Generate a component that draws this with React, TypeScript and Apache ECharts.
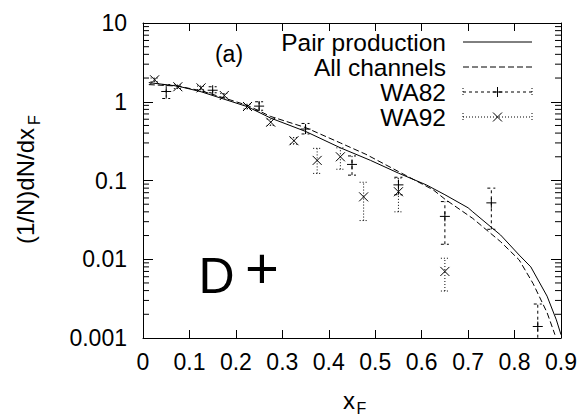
import React, { useEffect, useRef } from "react";
import * as echarts from "echarts";

const FONT = '"Liberation Sans", Arial, Helvetica, sans-serif';

// Tick labels
const xTickLabels = ["0", "0.1", "0.2", "0.3", "0.4", "0.5", "0.6", "0.7", "0.8", "0.9"];
const yTickLabels = ["0.001", "0.01", "0.1", "1", "10"];
const minorMantissas = [2, 3, 4, 5, 6, 7, 8, 9];
const minorDecades = [0.001, 0.01, 0.1, 1];

// Pair production (solid curve)
const pairX = [0.0125, 0.075, 0.125, 0.225, 0.275, 0.35, 0.425, 0.49, 0.55, 0.61, 0.65, 0.7, 0.71, 0.77, 0.81, 0.835, 0.87, 0.89, 0.9];
const pairY = [1.75, 1.58, 1.34, 0.865, 0.62, 0.42, 0.26, 0.18, 0.124, 0.088, 0.066, 0.045, 0.04, 0.0203, 0.0113, 0.008, 0.0034, 0.0017, 0.0011];

// All channels (dashed curve)
const allX = [0.0125, 0.075, 0.125, 0.225, 0.275, 0.35, 0.425, 0.48, 0.55, 0.625, 0.65, 0.71, 0.77, 0.81, 0.84, 0.87, 0.887];
const allY = [1.65, 1.58, 1.38, 0.9, 0.65, 0.47, 0.3, 0.215, 0.13, 0.076, 0.058, 0.033, 0.0167, 0.0098, 0.0049, 0.0021, 0.0011];

// WA82 (+)
const wa82X = [0.05, 0.15, 0.25, 0.35, 0.45, 0.55, 0.65, 0.75, 0.85];
const wa82Y = [1.35, 1.4, 0.88, 0.45, 0.16, 0.088, 0.035, 0.052, 0.0014];
const wa82Lo = [1.1, 1.3, 0.78, 0.39, 0.117, 0.066, 0.0155, 0.024, 0.0005];
const wa82Hi = [1.65, 1.55, 1.0, 0.53, 0.205, 0.11, 0.054, 0.08, 0.0027];

// WA92 (x)
const wa92X = [0.025, 0.075, 0.125, 0.175, 0.225, 0.275, 0.325, 0.375, 0.425, 0.475, 0.55, 0.65];
const wa92Y = [1.9, 1.55, 1.5, 1.2, 0.87, 0.55, 0.32, 0.18, 0.2, 0.062, 0.072, 0.007];
const wa92Lo = [1.8, 1.47, 1.42, 1.13, 0.81, 0.5, 0.29, 0.123, 0.139, 0.031, 0.04, 0.00395];
const wa92Hi = [2.0, 1.63, 1.58, 1.27, 0.93, 0.6, 0.35, 0.256, 0.26, 0.095, 0.107, 0.0103];

const legendNames = ["Pair production", "All channels", "WA82", "WA92"];

const BLACK = "#000";

function zip2(a: number[], b: number[]) {
  return a.map((v, i) => [v, b[i]]);
}
function zip4(a: number[], b: number[], c: number[], d: number[]) {
  return a.map((v, i) => [v, b[i], c[i], d[i]]);
}

function ln(x1: number, y1: number, x2: number, y2: number, dash?: number[]) {
  const style: any = { stroke: BLACK, lineWidth: 1 };
  if (dash) style.lineDash = dash;
  return { type: "line", shape: { x1, y1, x2, y2 }, style };
}

function markerLines(kind: string, cx: number, cy: number) {
  const r = 5;
  if (kind === "plus") {
    return [ln(cx - r, cy, cx + r, cy), ln(cx, cy - r, cx, cy + r)];
  }
  const q = 4.5;
  return [ln(cx - q, cy - q, cx + q, cy + q), ln(cx - q, cy + q, cx + q, cy - q)];
}

function makeErrRender(kind: string) {
  return (params: any, api: any) => {
    const x = api.value(0);
    const y = api.value(1);
    const lo = api.value(2);
    const hi = api.value(3);
    const p = api.coord([x, y]);
    const pl = api.coord([x, lo]);
    const ph = api.coord([x, hi]);
    const dash = kind === "plus" ? [3, 3] : [1, 2];
    const c = 4;
    return {
      type: "group",
      children: [
        ln(p[0], pl[1], p[0], ph[1], dash),
        ln(p[0] - c, ph[1], p[0] + c, ph[1], dash),
        ln(p[0] - c, pl[1], p[0] + c, pl[1], dash),
        ...markerLines(kind, p[0], p[1]),
      ],
    };
  };
}

const minorTickValues: number[] = [];
minorDecades.forEach((d) => minorMantissas.forEach((m) => minorTickValues.push(+(m * d).toPrecision(3))));

function minorTickRender(params: any, api: any) {
  const x = api.value(0);
  const y = api.value(1);
  const p = api.coord([x, y]);
  const l = api.coord([0, y]);
  const r = api.coord([0.9, y]);
  return {
    type: "group",
    children: [ln(l[0], p[1], l[0] + 6, p[1]), ln(r[0] - 6, p[1], r[0], p[1])],
  };
}

function buildOption() {
  const axisLine = { show: true, onZero: false, lineStyle: { color: BLACK, width: 1 } };
  const legendRight = 446;
  const sx1 = 463;
  const sx2 = 532;
  const rowsY = [42, 67, 92, 117];
  const legendGraphics: any[] = [];
  legendNames.forEach((name, i) => {
    const y = rowsY[i];
    legendGraphics.push({
      type: "text",
      x: legendRight,
      y,
      style: {
        text: name,
        fill: BLACK,
        fontSize: 24.5,
        fontFamily: FONT,
        align: "right",
        textAlign: "right",
        verticalAlign: "middle",
        textVerticalAlign: "middle",
      },
    });
    if (i === 0) legendGraphics.push(ln(sx1, y, sx2, y));
    if (i === 1) legendGraphics.push(ln(sx1, y, sx2, y, [6, 3]));
    if (i === 2 || i === 3) {
      const dash = i === 2 ? [3, 3] : [1, 2];
      legendGraphics.push(ln(sx1, y, sx2, y, dash));
      legendGraphics.push(ln(sx1, y - 4, sx1, y + 4, [1, 2]));
      legendGraphics.push(ln(sx2, y - 4, sx2, y + 4, [1, 2]));
      markerLines(i === 2 ? "plus" : "cross", (sx1 + sx2) / 2, y).forEach((m) => legendGraphics.push(m));
    }
  });

  const textStyle = (text: string, size: number, extra: any = {}) => ({
    text,
    fill: BLACK,
    fontSize: size,
    fontFamily: FONT,
    align: "center",
    textAlign: "center",
    verticalAlign: "middle",
    textVerticalAlign: "middle",
    ...extra,
  });

  const tickStyle = { show: true, inside: true, lineStyle: { color: BLACK, width: 1 } };

  return {
    animation: false,
    backgroundColor: "#fff",
    grid: { left: 143, right: 20, top: 23, bottom: 78 },
    xAxis: [
      {
        type: "value",
        min: 0,
        max: 0.9,
        interval: 0.1,
        position: "bottom",
        axisLine,
        axisTick: { ...tickStyle, length: 8 },
        axisLabel: {
          show: true,
          margin: 12,
          fontSize: 23,
          color: BLACK,
          fontFamily: FONT,
          formatter: (v: number) => xTickLabels[Math.round(v * 10)] ?? "",
        },
        splitLine: { show: false },
      },
      {
        type: "value",
        min: 0,
        max: 0.9,
        interval: 0.1,
        position: "top",
        axisLine,
        axisTick: { ...tickStyle, length: 8 },
        axisLabel: { show: false },
        splitLine: { show: false },
      },
    ],
    yAxis: [
      {
        type: "log",
        logBase: 10,
        min: 0.001,
        max: 10,
        position: "left",
        axisLine,
        axisTick: { ...tickStyle, length: 10 },
        axisLabel: {
          show: true,
          margin: 16,
          fontSize: 23,
          color: BLACK,
          fontFamily: FONT,
          formatter: (v: number) =>
            yTickLabels.find((l) => Math.abs(parseFloat(l) - v) / v < 1e-6) ?? "",
        },
        splitLine: { show: false },
      },
      {
        type: "log",
        logBase: 10,
        min: 0.001,
        max: 10,
        position: "right",
        axisLine,
        axisTick: { ...tickStyle, length: 10 },
        axisLabel: { show: false },
        splitLine: { show: false },
      },
    ],
    graphic: [
      ...legendGraphics,
      { type: "text", x: 229, y: 54, style: textStyle("(a)", 23) },
      { type: "text", x: 216.5, y: 276, style: textStyle("D", 50) },
      { type: "text", x: 262, y: 267, style: textStyle("+", 58) },
      { type: "text", x: 349, y: 400, style: textStyle("x", 24) },
      { type: "text", x: 361.5, y: 408, style: textStyle("F", 16) },
      {
        type: "group",
        x: 25,
        y: 186,
        rotation: Math.PI / 2,
        children: [
          { type: "text", x: 0, y: 0, style: textStyle("(1/N)dN/dx", 24) },
          { type: "text", x: 61, y: 9, style: textStyle("F", 16, { align: "left", textAlign: "left" }) },
        ],
      },
    ],
    series: [
      {
        name: legendNames[0],
        type: "line",
        xAxisIndex: 0,
        yAxisIndex: 0,
        showSymbol: false,
        symbol: "none",
        lineStyle: { color: BLACK, width: 1 },
        data: zip2(pairX, pairY),
      },
      {
        name: legendNames[1],
        type: "line",
        xAxisIndex: 0,
        yAxisIndex: 0,
        showSymbol: false,
        symbol: "none",
        lineStyle: { color: BLACK, width: 1, type: [6, 3] },
        data: zip2(allX, allY),
      },
      {
        name: legendNames[2],
        type: "custom",
        xAxisIndex: 0,
        yAxisIndex: 0,
        clip: true,
        renderItem: makeErrRender("plus"),
        encode: { x: 0, y: 1 },
        data: zip4(wa82X, wa82Y, wa82Lo, wa82Hi),
      },
      {
        name: legendNames[3],
        type: "custom",
        xAxisIndex: 0,
        yAxisIndex: 0,
        clip: true,
        renderItem: makeErrRender("cross"),
        encode: { x: 0, y: 1 },
        data: zip4(wa92X, wa92Y, wa92Lo, wa92Hi),
      },
      {
        name: "minor ticks",
        type: "custom",
        xAxisIndex: 0,
        yAxisIndex: 0,
        renderItem: minorTickRender,
        encode: { x: 0, y: 1 },
        data: minorTickValues.map((v) => [0.45, v]),
      },
    ],
  };
}

export default function App() {
  const ref = useRef<HTMLDivElement>(null);
  useEffect(() => {
    if (!ref.current) return;
    const chart = echarts.init(ref.current, null, { renderer: "svg" });
    chart.setOption(buildOption() as any);
    return () => chart.dispose();
  }, []);
  return (
    <div
      ref={ref}
      style={{ position: "fixed", left: 0, top: 0, width: 581, height: 416, background: "#fff" }}
    />
  );
}
